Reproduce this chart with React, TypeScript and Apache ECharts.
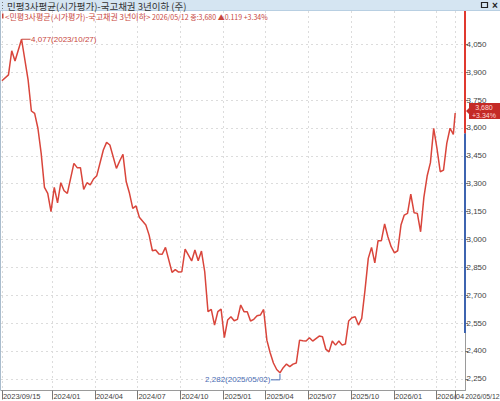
import React, { useEffect, useRef } from 'react';
import * as echarts from 'echarts';

const dates = [
  '2023-09-15', '2023-09-29', '2023-10-06', '2023-10-13', '2023-10-27', '2023-11-10', '2023-11-17', '2023-11-24',
  '2023-12-01', '2023-12-08', '2023-12-15', '2023-12-22', '2023-12-29', '2024-01-05', '2024-01-12', '2024-01-19',
  '2024-01-26', '2024-02-02', '2024-02-16', '2024-02-23', '2024-03-01', '2024-03-08', '2024-03-15', '2024-03-22',
  '2024-03-29', '2024-04-05', '2024-04-19', '2024-04-26', '2024-05-03', '2024-05-17', '2024-05-24', '2024-05-31',
  '2024-06-07', '2024-06-14', '2024-06-21', '2024-06-28', '2024-07-05', '2024-07-19', '2024-07-26', '2024-08-02',
  '2024-08-09', '2024-08-16', '2024-08-23', '2024-08-30', '2024-09-13', '2024-09-20', '2024-09-27', '2024-10-04',
  '2024-10-11', '2024-10-25', '2024-11-01', '2024-11-08', '2024-11-15', '2024-11-22', '2024-11-29', '2024-12-06',
  '2024-12-13', '2024-12-20', '2024-12-27', '2025-01-03', '2025-01-10', '2025-01-17', '2025-01-24', '2025-01-31',
  '2025-02-07', '2025-02-14', '2025-02-21', '2025-02-28', '2025-03-07', '2025-03-14', '2025-03-21', '2025-03-28',
  '2025-04-04', '2025-04-11', '2025-04-18', '2025-04-25', '2025-05-02', '2025-05-09', '2025-05-16', '2025-05-23',
  '2025-05-30', '2025-06-06', '2025-06-13', '2025-06-20', '2025-06-27', '2025-07-04', '2025-07-11', '2025-07-25',
  '2025-08-01', '2025-08-08', '2025-08-15', '2025-08-22', '2025-08-29', '2025-09-05', '2025-09-12', '2025-09-19',
  '2025-09-26', '2025-10-03', '2025-10-10', '2025-10-17', '2025-10-24', '2025-10-31', '2025-11-07', '2025-11-14',
  '2025-11-21', '2025-11-28', '2025-12-05', '2025-12-12', '2025-12-19', '2025-12-26', '2026-01-02', '2026-01-09',
  '2026-01-16', '2026-01-23', '2026-01-30', '2026-02-06', '2026-02-13', '2026-02-20', '2026-02-27', '2026-03-06',
  '2026-03-13', '2026-03-20', '2026-03-27', '2026-04-03', '2026-04-10', '2026-04-17', '2026-04-24', '2026-05-01',
  '2026-05-08', '2026-05-12',
];

const values = [
  3854, 3885, 4015, 3960, 4077, 3858, 3691, 3678,
  3598, 3463, 3280, 3248, 3149, 3280, 3197, 3305,
  3262, 3248, 3409, 3386, 3386, 3269, 3305, 3293,
  3325, 3343, 3481, 3522, 3508, 3382, 3422, 3458,
  3310, 3248, 3167, 3180, 3119, 3077, 3023, 2939,
  2943, 2921, 2920, 2957, 2823, 2837, 2824, 2826,
  2948, 2884, 2943, 2885, 2937, 2826, 2611, 2624,
  2539, 2611, 2625, 2471, 2566, 2584, 2562, 2570,
  2647, 2611, 2611, 2561, 2570, 2589, 2593, 2623,
  2458, 2390, 2335, 2300, 2282, 2310, 2329, 2315,
  2329, 2335, 2458, 2455, 2453, 2471, 2453, 2480,
  2476, 2410, 2395, 2453, 2431, 2453, 2431, 2437,
  2561, 2578, 2584, 2539, 2575, 2727, 2898, 2957,
  2874, 2993, 2993, 3083, 3014, 2961, 2928, 2939,
  3077, 3131, 3140, 3243, 3144, 3140, 3041, 3226,
  3341, 3413, 3598, 3490, 3364, 3373, 3517, 3598,
  3565, 3680,
];

const xTickDates = [
  '2023-09-15', '2024-01-01', '2024-04-01', '2024-07-01', '2024-10-01', '2025-01-01',
  '2025-04-01', '2025-07-01', '2025-10-01', '2026-01-01', '2026-04-01', '2026-05-12',
];
const xTickLabels = [
  '2023/09/15', '2024/01', '2024/04', '2024/07', '2024/10', '2025/01',
  '2025/04', '2025/07', '2025/10', '2026/01', '2026/04', '2026/05/12',
];
const yTicks = [2250, 2400, 2550, 2700, 2850, 3000, 3150, 3300, 3450, 3600, 3750, 3900, 4050];

const X_MIN = '2023-09-13';
const X_MAX = '2026-06-02';
const Y_MIN = 2187;
const Y_MAX = 4229;

const PEAK = { date: '2023-10-27', value: 4077, label: '4,077(2023/10/27)' };
const LOW = { date: '2025-05-02', value: 2282, label: '2,282(2025/05/02)' };
const LAST = { date: '2026-05-12', value: 3680, change: '+3.34%', label: '3,680' };
const RED_BAND_LOW = 3570;
const BLUE_BAND_LOW = 2497;

const TITLE = '민평3사평균(시가평가)-국고채권 3년이하 (주)';
const LEGEND_NAME = '<민평3사평균(시가평가)-국고채권 3년이하>';
const LEGEND_INFO = ' 2026/05/12 종:3,680 ▲0.119 +3.34%';

const toTs = (s: string) => {
  const [y, m, d] = s.split('-').map(Number);
  return Date.UTC(y, m - 1, d);
};

const FONT = "'Liberation Sans', Arial, sans-serif";
const KFONT = "'Noto Sans CJK KR', 'Noto Sans', sans-serif";
const LINE_RED = '#d9453b';
const TEXT_RED = '#c8463c';
const BLUE = '#4a6cb3';

export default function App() {
  const ref = useRef<HTMLDivElement>(null);

  useEffect(() => {
    document.body.style.margin = '0';
    const el = ref.current!;
    const chart = echarts.init(el, null, { renderer: 'svg' });
    const xTickTs = xTickDates.map(toTs);
    const xLabelTs = xTickTs.slice(0, -1);
    const seriesData = dates.map((d, i) => [toTs(d), values[i]]);

    chart.setOption({
      animation: false,
      backgroundColor: '#ffffff',
      grid: { left: 1, right: 35, top: 11, bottom: 10.5, containLabel: false, outerBoundsMode: 'none' },
      xAxis: {
        type: 'value',
        min: toTs(X_MIN),
        max: toTs(X_MAX),
        scale: true,
        axisLine: { show: true, onZero: false, lineStyle: { color: '#9a9a9a', width: 1 } },
        axisTick: { show: true, length: 9, lineStyle: { color: '#777' }, customValues: xTickTs },
        splitLine: { show: true, lineStyle: { color: '#dcdcdc', type: [2, 3], width: 1 } },
        axisLabel: {
          customValues: xLabelTs,
          align: 'left',
          margin: 1.5,
          padding: [0, 0, 0, 1],
          fontSize: 7.5,
          fontFamily: FONT,
          color: '#444',
          formatter: (v: number) => {
            const i = xTickTs.indexOf(v);
            return i >= 0 ? xTickLabels[i] : '';
          },
        },
      },
      yAxis: {
        type: 'value',
        position: 'right',
        min: Y_MIN,
        max: Y_MAX,
        axisLine: { show: true, onZero: false, lineStyle: { color: '#9a9a9a', width: 1 } },
        axisTick: { show: true, length: 3, lineStyle: { color: '#777' }, customValues: yTicks },
        splitLine: { show: true, lineStyle: { color: '#dcdcdc', type: [2, 3], width: 1 } },
        axisLabel: {
          customValues: yTicks,
          margin: 1.5,
          fontSize: 8,
          fontFamily: FONT,
          color: '#444',
          formatter: (v: number) => v.toLocaleString('en-US'),
        },
      },
      series: [
        {
          type: 'line',
          data: seriesData,
          showSymbol: false,
          symbol: 'none',
          lineStyle: { color: LINE_RED, width: 1.5 },
        },
      ],
    });

    const px = (d: string, v: number) => chart.convertToPixel({ gridIndex: 0 }, [toTs(d), v]) as number[];
    const yPx = (v: number) => px(X_MIN, v)[1];
    const right = px(X_MAX, Y_MIN)[0];
    const top = yPx(Y_MAX);
    const bottom = yPx(Y_MIN);
    const redLow = yPx(RED_BAND_LOW);
    const blueLow = yPx(BLUE_BAND_LOW);
    const pk = px(PEAK.date, PEAK.value);
    const lo = px(LOW.date, LOW.value);
    const last = px(LAST.date, LAST.value);
    const lastTickX = px(xTickDates[xTickDates.length - 1], Y_MIN)[0];
    const boxY = last[1] - 2;

    chart.setOption({
      graphic: [
        { type: 'rect', shape: { x: 0, y: 0, width: 500, height: 11 }, style: { fill: '#d5e5f2' }, z: 100 },
        { type: 'line', shape: { x1: 0, y1: 10.5, x2: 500, y2: 10.5 }, style: { stroke: '#b8cfe2', lineWidth: 1 }, z: 100 },
        { type: 'rect', shape: { x: 2, y: 2, width: 1, height: 1 }, style: { fill: '#777' }, z: 101 },
        { type: 'rect', shape: { x: 2, y: 5, width: 1, height: 1 }, style: { fill: '#777' }, z: 101 },
        { type: 'rect', shape: { x: 2, y: 8, width: 1, height: 1 }, style: { fill: '#777' }, z: 101 },
        { type: 'text', x: 7, y: 5.8, style: { text: TITLE, font: '9.5px ' + KFONT, fill: '#333', verticalAlign: 'middle' }, z: 101 },
        { type: 'rect', shape: { x: 481.5, y: 2.5, width: 6, height: 5 }, style: { fill: 'none', stroke: '#222', lineWidth: 1.2 }, z: 101 },
        { type: 'text', x: 495, y: 5.5, style: { text: '×', font: 'bold 10px ' + FONT, fill: '#222', align: 'center', verticalAlign: 'middle' }, z: 101 },
        { type: 'rect', shape: { x: 2, y: 13.5, width: 1.5, height: 5 }, style: { fill: TEXT_RED }, z: 101 },
        {
          type: 'text', x: 5, y: 16.8,
          style: {
            text: '{k|' + LEGEND_NAME + '}{n|' + LEGEND_INFO + '}',
            verticalAlign: 'middle',
            rich: {
              k: { fontFamily: KFONT, fontSize: 8, fill: TEXT_RED },
              n: { fontFamily: KFONT, fontSize: 7, fill: TEXT_RED },
            },
          },
          z: 101,
        },
        { type: 'line', shape: { x1: 0.5, y1: 11, x2: 0.5, y2: bottom }, style: { stroke: '#a9bccd', lineWidth: 1 }, z: 50 },
        { type: 'line', shape: { x1: right, y1: top, x2: right, y2: redLow }, style: { stroke: '#e0392f', lineWidth: 2 }, z: 60 },
        { type: 'line', shape: { x1: right, y1: redLow, x2: right, y2: blueLow }, style: { stroke: '#3e64b0', lineWidth: 2 }, z: 60 },
        { type: 'line', shape: { x1: pk[0], y1: pk[1], x2: pk[0] + 9, y2: pk[1] }, style: { stroke: TEXT_RED, lineWidth: 1 }, z: 60 },
        { type: 'text', x: pk[0] + 9.5, y: pk[1] + 0.5, style: { text: PEAK.label, font: '8px ' + FONT, fill: TEXT_RED, verticalAlign: 'middle' }, z: 60 },
        { type: 'polyline', shape: { points: [[lo[0], lo[1] + 1], [lo[0], lo[1] + 7], [lo[0] - 9, lo[1] + 7]] }, style: { stroke: BLUE, lineWidth: 1, fill: 'none' }, z: 60 },
        { type: 'text', x: lo[0] - 9.5, y: lo[1] + 7, style: { text: LOW.label, font: '8px ' + FONT, fill: BLUE, align: 'right', verticalAlign: 'middle' }, z: 60 },
        {
          type: 'text', x: lastTickX + 10, y: bottom + 5.8, scaleX: 0.92,
          style: { text: xTickLabels[xTickLabels.length - 1], font: '7.5px ' + FONT, fill: '#444', verticalAlign: 'middle' },
          z: 60,
        },
        {
          type: 'polygon',
          shape: { points: [[right + 1, boxY], [right + 4, boxY - 3], [right + 4, boxY - 8], [500, boxY - 8], [500, boxY + 8], [right + 4, boxY + 8], [right + 4, boxY + 3]] },
          style: { fill: '#c42a26' },
          z: 70,
        },
        { type: 'text', x: 484, y: boxY - 3.8, style: { text: LAST.label, font: '7px ' + FONT, fill: '#ffd9d6', align: 'center', verticalAlign: 'middle' }, z: 71 },
        { type: 'text', x: 484, y: boxY + 4, style: { text: LAST.change, font: '7px ' + FONT, fill: '#ffd9d6', align: 'center', verticalAlign: 'middle' }, z: 71 },
      ],
    });

    return () => chart.dispose();
  }, []);

  return <div ref={ref} style={{ position: 'fixed', left: 0, top: 0, width: 500, height: 401 }} />;
}
